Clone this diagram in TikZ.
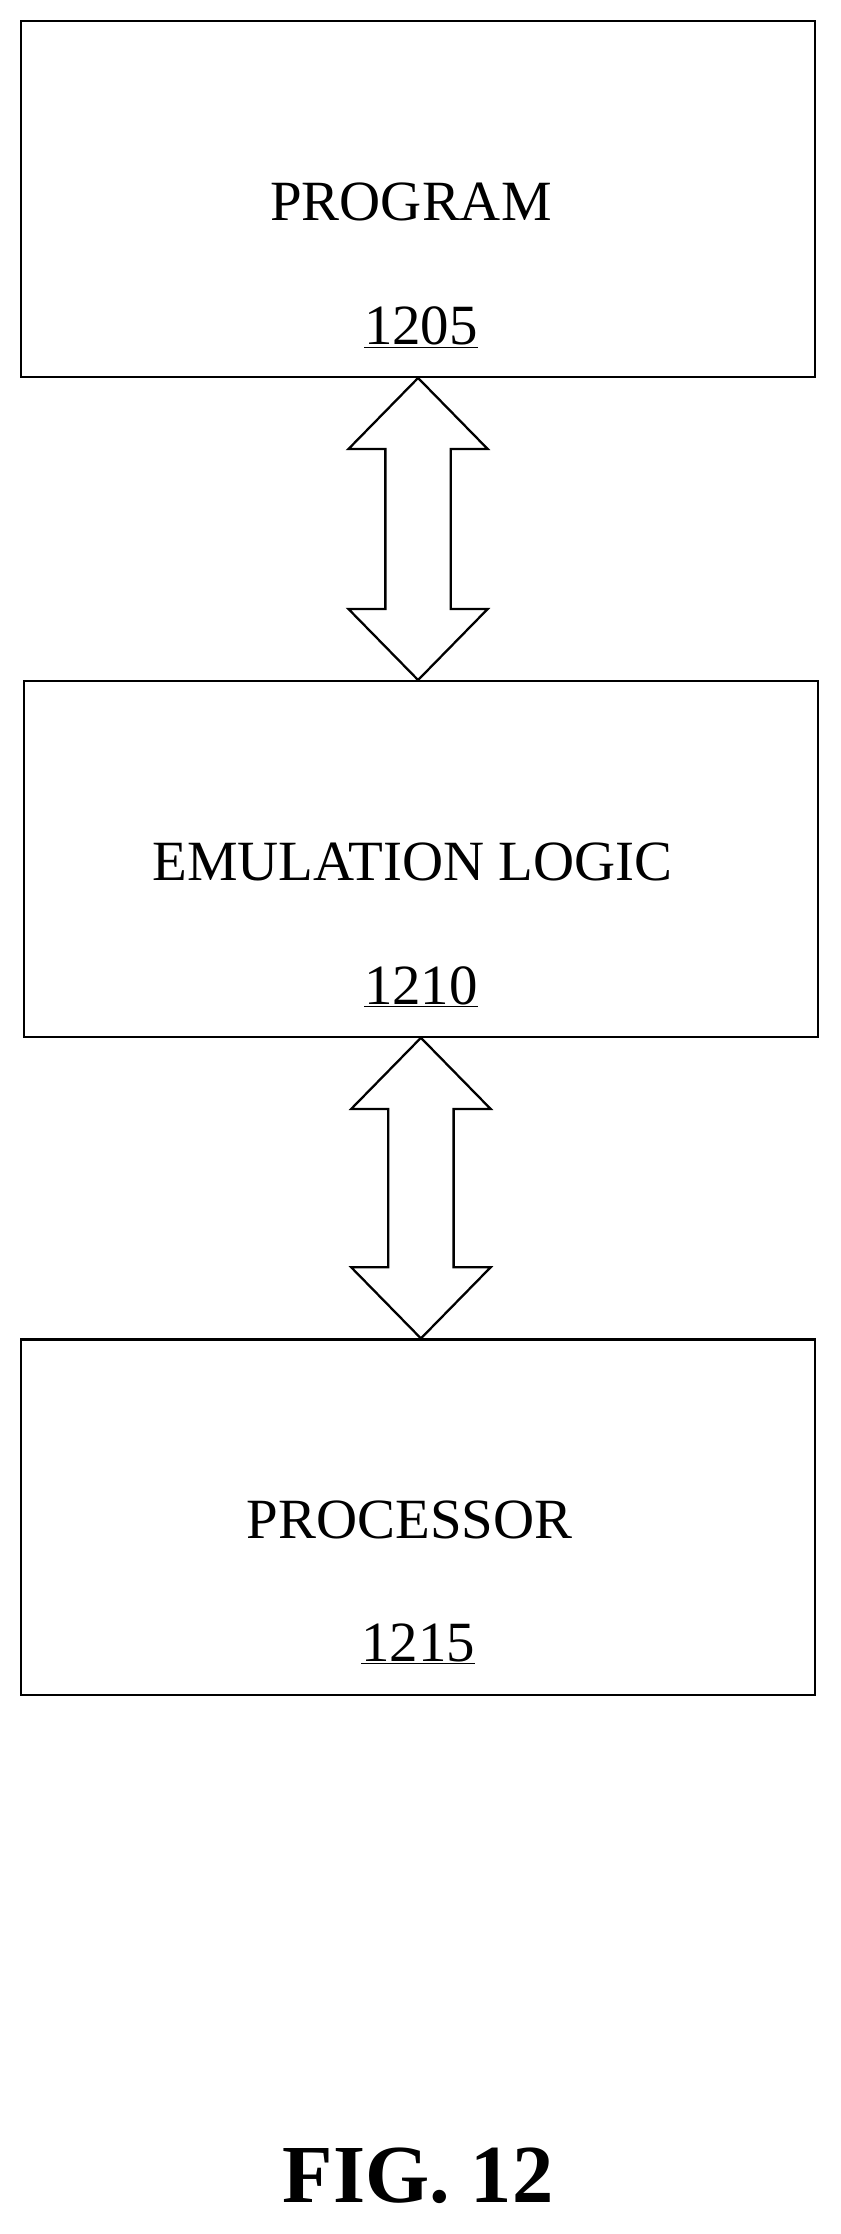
\documentclass[tikz,border=0pt]{standalone}
\usepackage{fontspec}
\setmainfont{Liberation Serif}
\usetikzlibrary{positioning,calc}
\tikzset{
  blockbox/.style={draw, line width=1.6pt, minimum width=558pt, minimum height=250pt, inner sep=0pt},
  boxtext/.style={font=\fontsize{40}{44}\selectfont}
}
\newcommand{\bigarrow}[3]{%
  \coordinate (#3top) at (#1.south);
  \coordinate (#3bot) at (#3top |- #2.north);
  \draw[line width=1.6pt]
    (#3top) -- ++(49pt,-50pt) -- ++(-26pt,0pt) -- ($(#3bot)+(23pt,50pt)$)
    -- ++(26pt,0pt) -- (#3bot) -- ++(-49pt,50pt) -- ++(26pt,0pt)
    -- ($(#3top)+(-23pt,-50pt)$) -- ++(-26pt,0pt) -- cycle;}
\begin{document}
\begin{tikzpicture}
  \useasboundingbox (0pt,0pt) rectangle (591pt,-1571pt);
  \node[blockbox] (B1) at (294pt,-140pt) {};
  \node[blockbox] (B2) at (296pt,-604pt) {};
  \node[blockbox] (B3) at (294pt,-1067pt) {};

  \node[boxtext] (T1) at (289pt,-142pt) {PROGRAM};
  \node[boxtext] (N1) at (296pt,-230pt) {\underline{1205}};
  \node[boxtext] (T2) at (290pt,-606pt) {EMULATION LOGIC};
  \node[boxtext] (N2) at (296pt,-694pt) {\underline{1210}};
  \node[boxtext] (T3) at (288pt,-1069pt) {PROCESSOR};
  \node[boxtext] (N3) at (294pt,-1156pt) {\underline{1215}};

  \bigarrow{B1}{B2}{A1}
  \bigarrow{B2}{B3}{A2}

  \node[font=\fontsize{58}{64}\selectfont\bfseries] (fig) at (294pt,-1530pt) {FIG. 12};
\end{tikzpicture}
\end{document}
